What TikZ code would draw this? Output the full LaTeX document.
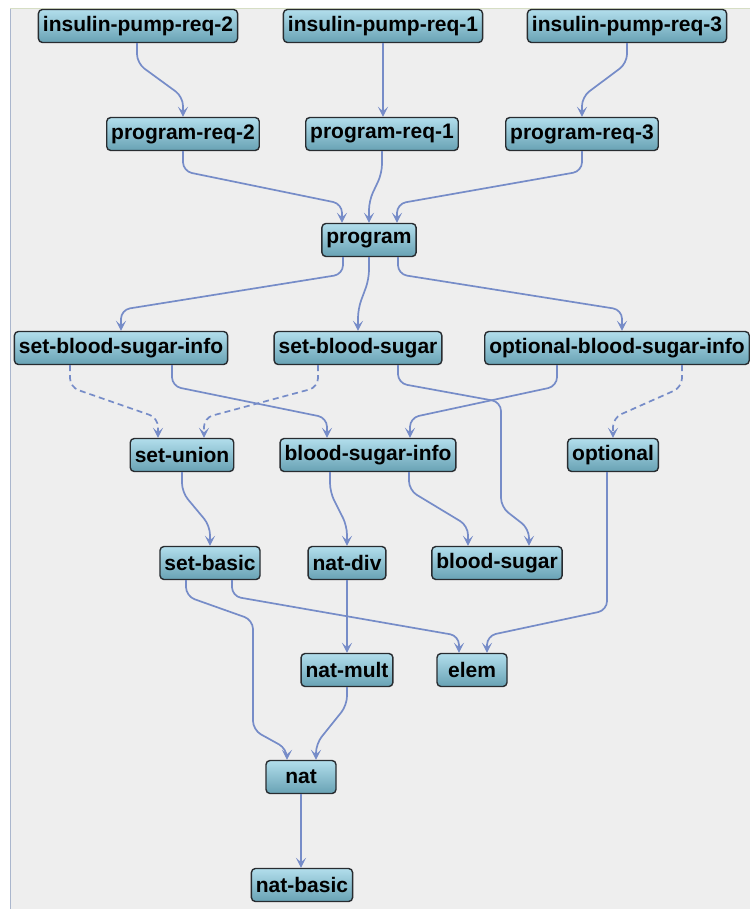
\documentclass[tikz,border=0pt]{standalone}
\usepackage{fontspec}
\setmainfont{Liberation Sans}
\usepackage{tikz}
\usetikzlibrary{arrows.meta,calc}

\definecolor{panelbg}{RGB}{238,238,238}
\definecolor{panelline}{RGB}{170,182,205}
\definecolor{toplinec}{RGB}{214,222,196}
\definecolor{nodetop}{RGB}{178,222,236}
\definecolor{nodebot}{RGB}{104,162,180}
\definecolor{nodeedge}{RGB}{40,44,48}
\definecolor{depcol}{RGB}{118,140,200}

\begin{document}
\begin{tikzpicture}[x=1pt,y=-1pt]
		\tikzstyle{module}=[draw=nodeedge,line width=1.4pt,rounded corners=4pt,top color=nodetop,bottom color=nodebot,minimum height=33pt,minimum width=70pt,inner xsep=4.5pt,inner ysep=0pt,font=\fontsize{21}{24}\selectfont\bfseries]
		\tikzstyle{dep}=[draw=depcol,line width=1.7pt,rounded corners=9pt,-{Stealth[length=10pt,width=10pt,inset=4.5pt]}]
		\tikzstyle{opt}=[dep,dashed,dash pattern=on 6pt off 4pt]

		\useasboundingbox (0,0) rectangle (750,909);
		\fill[white] (0,0) rectangle (750,909);
		\fill[panelbg] (10,9) rectangle (750,909);
		\draw[toplinec,line width=1pt] (10,9) -- (750,9);
		\draw[panelline,line width=1pt] (10,9) -- (10,909);

		\node[module](ipr2) at (138,26){insulin-pump-req-2};
		\node[module](ipr1) at (383,26){insulin-pump-req-1};
		\node[module](ipr3) at (627,26){insulin-pump-req-3};

		\node[module](pr2) at (183,134){program-req-2};
		\node[module](pr1) at (382,134){program-req-1};
		\node[module](pr3) at (582,134){program-req-3};

		\node[module](prog) at (369,240){program};

		\node[module](sbsi) at (121,348){set-blood-sugar-info};
		\node[module](sbs) at (358,348){set-blood-sugar};
		\node[module](obsi) at (617,348){optional-blood-sugar-info};

		\node[module](su) at (182,455){set-union};
		\node[module](bsi) at (368,455){blood-sugar-info};
		\node[module](opt) at (613,455){optional};

		\node[module](sb) at (210,563){set-basic};
		\node[module](nd) at (347,563){nat-div};
		\node[module](bs) at (497,563){blood-sugar};

		\node[module](nm) at (347,670){nat-mult};
		\node[module](elem) at (472,670){elem};

		\node[module](nat) at (301,777){nat};

		\node[module](nb) at (302,885){nat-basic};

		% requirements
		\draw[dep] ([xshift=-1pt]ipr2.south) -- ++(0,20) -- ($(pr2.north)+(0,-20)$) -- (pr2.north);
		\draw[dep] (ipr1.south) -- (ipr1.south |- pr1.north);
		\draw[dep] (ipr3.south) -- ++(0,20) -- ($(pr3.north)+(0,-20)$) -- (pr3.north);

		\draw[dep] (pr2.south) -- ++(0,20) -- ($(prog.north)+(-27,-19)$) -- ([xshift=-27pt]prog.north);
		\draw[dep] (pr1.south) -- ++(0,22) -- ($(prog.north)+(0,-22)$) -- (prog.north);
		\draw[dep] (pr3.south) -- ++(0,20) -- ($(prog.north)+(28,-19)$) -- ([xshift=28pt]prog.north);

		% program
		\draw[dep] ([xshift=-26pt]prog.south) -- ++(0,17) -- ($(sbsi.north)+(0,-21)$) -- (sbsi.north);
		\draw[dep] (prog.south) -- ++(0,22) -- ($(sbs.north)+(0,-22)$) -- (sbs.north);
		\draw[dep] ([xshift=29pt]prog.south) -- ++(0,17) -- ($(obsi.north)+(5,-21)$) -- ([xshift=5pt]obsi.north);

		% operations
		\draw[opt] ([xshift=-51pt]sbsi.south) -- ++(0,22) -- ($(su.north)+(-24,-20)$) -- ([xshift=-24pt]su.north);
		\draw[opt] ([xshift=-40pt]sbs.south) -- ++(0,22) -- ($(su.north)+(22,-20)$) -- ([xshift=22pt]su.north);
		\draw[dep] ([xshift=51pt]sbsi.south) -- ++(0,21) -- ($(bsi.north)+(-41,-20)$) -- ([xshift=-41pt]bsi.north);
		\draw[dep] ([xshift=-60pt]obsi.south) -- ++(0,21) -- ($(bsi.north)+(42,-20)$) -- ([xshift=42pt]bsi.north);
		\draw[dep] ([xshift=40pt]sbs.south) -- ++(0,18) -- (501,402) -- (501,507) -- ($(bs.north)+(32,-17)$) -- ([xshift=32pt]bs.north);
		\draw[opt] ([xshift=65pt]obsi.south) -- ++(0,22) -- ($(opt.north)+(0,-20)$) -- (opt.north);

		% basics
		\draw[dep] (su.south) -- ++(0,20) -- ($(sb.north)+(0,-20)$) -- (sb.north);
		\draw[dep] ([xshift=-38pt]bsi.south) -- ++(0,20) -- ($(nd.north)+(0,-20)$) -- (nd.north);
		\draw[dep] ([xshift=41pt]bsi.south) -- ++(0,18) -- ($(bs.north)+(-29,-20)$) -- ([xshift=-29pt]bs.north);
		\draw[dep] ([xshift=-6pt]opt.south) -- ++(0,138) -- ($(elem.north)+(15,-17)$) -- ([xshift=15pt]elem.north);

		\draw[dep] ([xshift=-24pt]sb.south) -- ++(0,16) -- (253,620) -- (253,730) -- ($(nat.north)+(-14,-11)$) -- ([xshift=-14pt]nat.north);
		\draw[dep] ([xshift=22pt]sb.south) -- ++(0,16) -- ($(elem.north)+(-13,-17)$) -- ([xshift=-13pt]elem.north);
		\draw[dep] (nd.south) -- (nm.north);
		\draw[dep] (nm.south) -- ++(0,18) -- ($(nat.north)+(15,-16)$) -- ([xshift=15pt]nat.north);
		\draw[dep] (nat.south) -- (nat.south |- nb.north);
\end{tikzpicture}
\end{document}
